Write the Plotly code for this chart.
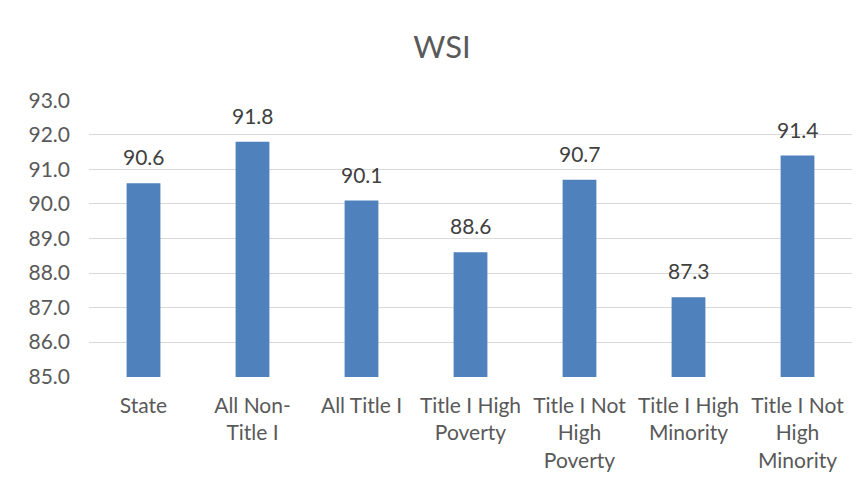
import plotly.graph_objects as go

# ── Datos ──────────────────────────────────────────────────────────────────────
categorias = ["State", "All Non-<br>Title I", "All Title I", "Title I High<br>Poverty",
              "Title I Not<br>High<br>Poverty", "Title I High<br>Minority",
              "Title I Not<br>High<br>Minority"]
valores = [90.6, 91.8, 90.1, 88.6, 90.7, 87.3, 91.4]
ticks_y = [85, 86, 87, 88, 89, 90, 91, 92, 93]

FONT = "Lato, Calibri, Carlito, sans-serif"
GRIS = "#595959"

fig = go.Figure(go.Bar(
    x=categorias, y=valores,
    marker=dict(color="#4F81BD", line=dict(width=0)),
    cliponaxis=True, hoverinfo="x+y",
))

# etiquetas de datos sobre cada barra
for c, v in zip(categorias, valores):
    fig.add_annotation(x=c, y=v, text=f"{v:.1f}", showarrow=False,
                       yanchor="bottom", yshift=12,
                       font=dict(size=21, color="#404040", family=FONT))

fig.update_layout(
    width=868, height=493,
    margin=dict(l=81, r=24, t=92, b=124),
    paper_bgcolor="white", plot_bgcolor="white",
    title=dict(text="WSI", x=0.5, xanchor="center", y=0.921, yanchor="middle",
               font=dict(size=31, color=GRIS, family=FONT)),
    bargap=0.69,
    showlegend=False,
    font=dict(family=FONT, color=GRIS, size=21),
    xaxis=dict(showgrid=False, showline=False, ticks="", tickangle=0,
               tickfont=dict(size=21, color=GRIS), ticklabelstandoff=14),
    yaxis=dict(range=[84.99, 93.01], tickvals=ticks_y,
               ticktext=[f"{t:.1f}" for t in ticks_y],
               showgrid=True, gridcolor="#D9D9D9", gridwidth=1.3,
               zeroline=False, showline=False, ticks="",
               tickfont=dict(size=21, color=GRIS), ticklabelstandoff=18),
)

fig.write_html("out.html")
